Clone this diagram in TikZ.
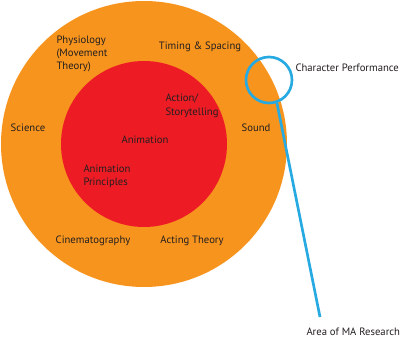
\documentclass[tikz,border=0pt]{standalone}
\usepackage{fontspec}
\setmainfont{PT Sans}
\definecolor{ringorange}{RGB}{247,148,29}
\definecolor{corered}{RGB}{237,28,36}
\definecolor{markblue}{RGB}{39,170,225}
\definecolor{inkgrey}{RGB}{35,31,32}
\newcommand{\labelfont}{\fontsize{8}{10}\selectfont}

\tikzset{every picture/.style={line width=0.75pt}}
\tikzset{lbl/.style={inner sep=0.75pt,font=\labelfont,text=inkgrey}}

\begin{document}
\begin{tikzpicture}[x=0.75pt,y=0.75pt,yscale=-1,xscale=1]
\useasboundingbox (0,0) rectangle (400,338);

%Shape: Circle [id:outer ring]
\draw [draw opacity=0][fill=ringorange] (144,144) circle (143);
%Shape: Circle [id:core]
\draw [draw opacity=0][fill=corered] (144,144) circle (83);

% Text Node
\draw (55,54) node [anchor=west][lbl][align=left] (physiology) {Physiology\\(Movement\\Theory)};
% Text Node
\draw (200,47) node [lbl] (timing) {Timing \& Spacing};
% Text Node
\draw (28,128) node [lbl] (science) {Science};
% Text Node
\draw (256,128) node [lbl] (sound) {Sound};
% Text Node
\draw (164,106) node [anchor=west][lbl][align=left] (action) {Action/\\Storytelling};
% Text Node
\draw (145,140) node [lbl] (animation) {Animation};
% Text Node
\draw (82,176) node [anchor=west][lbl][align=left] (principles) {Animation\\Principles};
% Text Node
\draw (93,241) node [lbl] (cinema) {Cinematography};
% Text Node
\draw (192,241) node [lbl] (acting) {Acting Theory};

%Shape: Circle [id:research mark]
\node [circle,draw=markblue,line width=2pt,inner sep=0pt,minimum size=34.5pt] (mark) at (269,80) {};
% Text Node
\draw (294,68) node [anchor=west][lbl] (character) {Character Performance};

%Straight Lines [id:pointer]
\coordinate (tip) at (320,317);
\draw [color=markblue,line width=2pt] (mark.-71) -- (tip);
% Text Node
\draw (305,332) node [anchor=west][lbl] (area) {Area of MA Research};

\end{tikzpicture}
\end{document}
